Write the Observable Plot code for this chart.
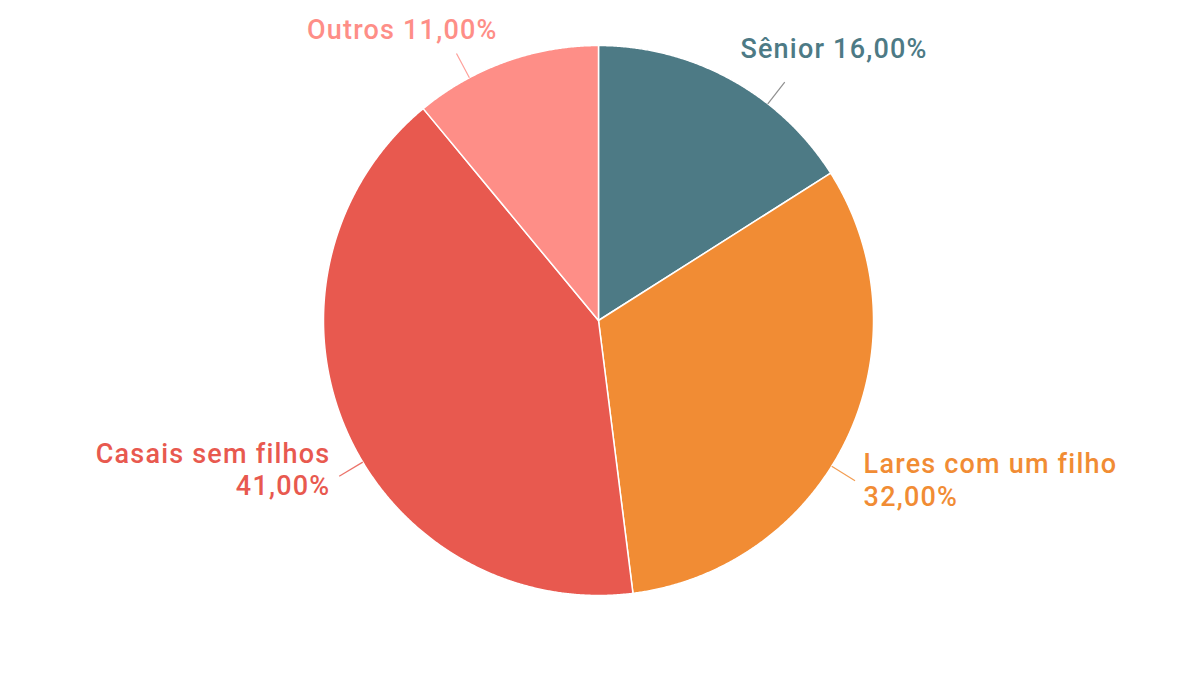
<!DOCTYPE html>
<html>
<head>
<meta charset="utf-8">
<script src="https://cdn.jsdelivr.net/npm/d3@7"></script>
<script src="https://cdn.jsdelivr.net/npm/@observablehq/plot@0.6"></script>
<style>
  html, body { margin: 0; padding: 0; background: #ffffff; }
  #chart svg { display: block; }
  #chart svg text { letter-spacing: 1.2px; }
</style>
</head>
<body>
<div id="chart"></div>
<script>
// ---- data ----
const categories = ["Sênior", "Lares com um filho", "Casais sem filhos", "Outros"];
const values = [16, 32, 41, 11];
const colors = ["#4d7a85", "#f18c34", "#e8594f", "#fe8e87"];
const labelTexts = ["Sênior 16,00%", "Lares com um filho\n32,00%", "Casais sem filhos\n41,00%", "Outros 11,00%"];

// ---- layout (chart units: 1 = pie radius) ----
const R = 275, CX = 598, CY = 320, W = 1200, H = 675;
const labelLayout = [
  {x: 0.516, y: 0.993, anchor: "start"},
  {x: 0.964, y: -0.575, anchor: "start"},
  {x: -0.975, y: -0.538, anchor: "end"},
  {x: -0.367, y: 1.062, anchor: "end"}
];
const leaderAngles = [38, 122, 239, 332]; // degrees, clockwise from top
const leaderColors = ["#7a7a7a", "#f18c34", "#e8594f", "#fe8e87"];

const pie = d3.pie().sort(null).value(d => d)(values);
const deg = Math.PI / 180;

const slicePts = [];
pie.forEach((p, i) => {
  const cat = categories[i];
  slicePts.push({cat, x: 0, y: 0});
  const steps = Math.max(2, Math.ceil((p.endAngle - p.startAngle) / (0.25 * deg)));
  for (let k = 0; k <= steps; k++) {
    const a = p.startAngle + (p.endAngle - p.startAngle) * k / steps;
    slicePts.push({cat, x: Math.sin(a), y: Math.cos(a)});
  }
});

const leaders = [];
leaderAngles.forEach((a, i) => {
  const r = a * deg;
  leaders.push({c: leaderColors[i], x1: Math.sin(r) * 1.0, y1: Math.cos(r) * 1.0,
                x2: Math.sin(r) * 1.1, y2: Math.cos(r) * 1.1});
});

const labels = categories.map((c, i) => ({cat: c, text: labelTexts[i], ...labelLayout[i]}));

const chart = Plot.plot({
  width: W,
  height: H,
  margin: 0,
  style: {background: "#ffffff", overflow: "visible"},
  x: {domain: [-CX / R, (W - CX) / R], range: [0, W], axis: null},
  y: {domain: [-(H - CY) / R, CY / R], range: [H, 0], axis: null},
  color: {domain: categories, range: colors},
  marks: [
    Plot.line(slicePts, {x: "x", y: "y", z: "cat", fill: "cat", stroke: "#ffffff",
      strokeWidth: 1.5, curve: "linear-closed", strokeLinejoin: "round"}),
    Plot.link(leaders, {x1: "x1", y1: "y1", x2: "x2", y2: "y2", stroke: d => d.c, strokeWidth: 1.2, strokeOpacity: 0.85}),
    Plot.text(labels.filter(d => d.anchor === "start"), {x: "x", y: "y", text: "text", fill: "cat",
      textAnchor: "start", fontSize: 27, fontWeight: 500, fontFamily: "Roboto", lineHeight: 1.22}),
    Plot.text(labels.filter(d => d.anchor === "end"), {x: "x", y: "y", text: "text", fill: "cat",
      textAnchor: "end", fontSize: 27, fontWeight: 500, fontFamily: "Roboto", lineHeight: 1.22})
  ]
});
document.getElementById("chart").appendChild(chart);
</script>
</body>
</html>
